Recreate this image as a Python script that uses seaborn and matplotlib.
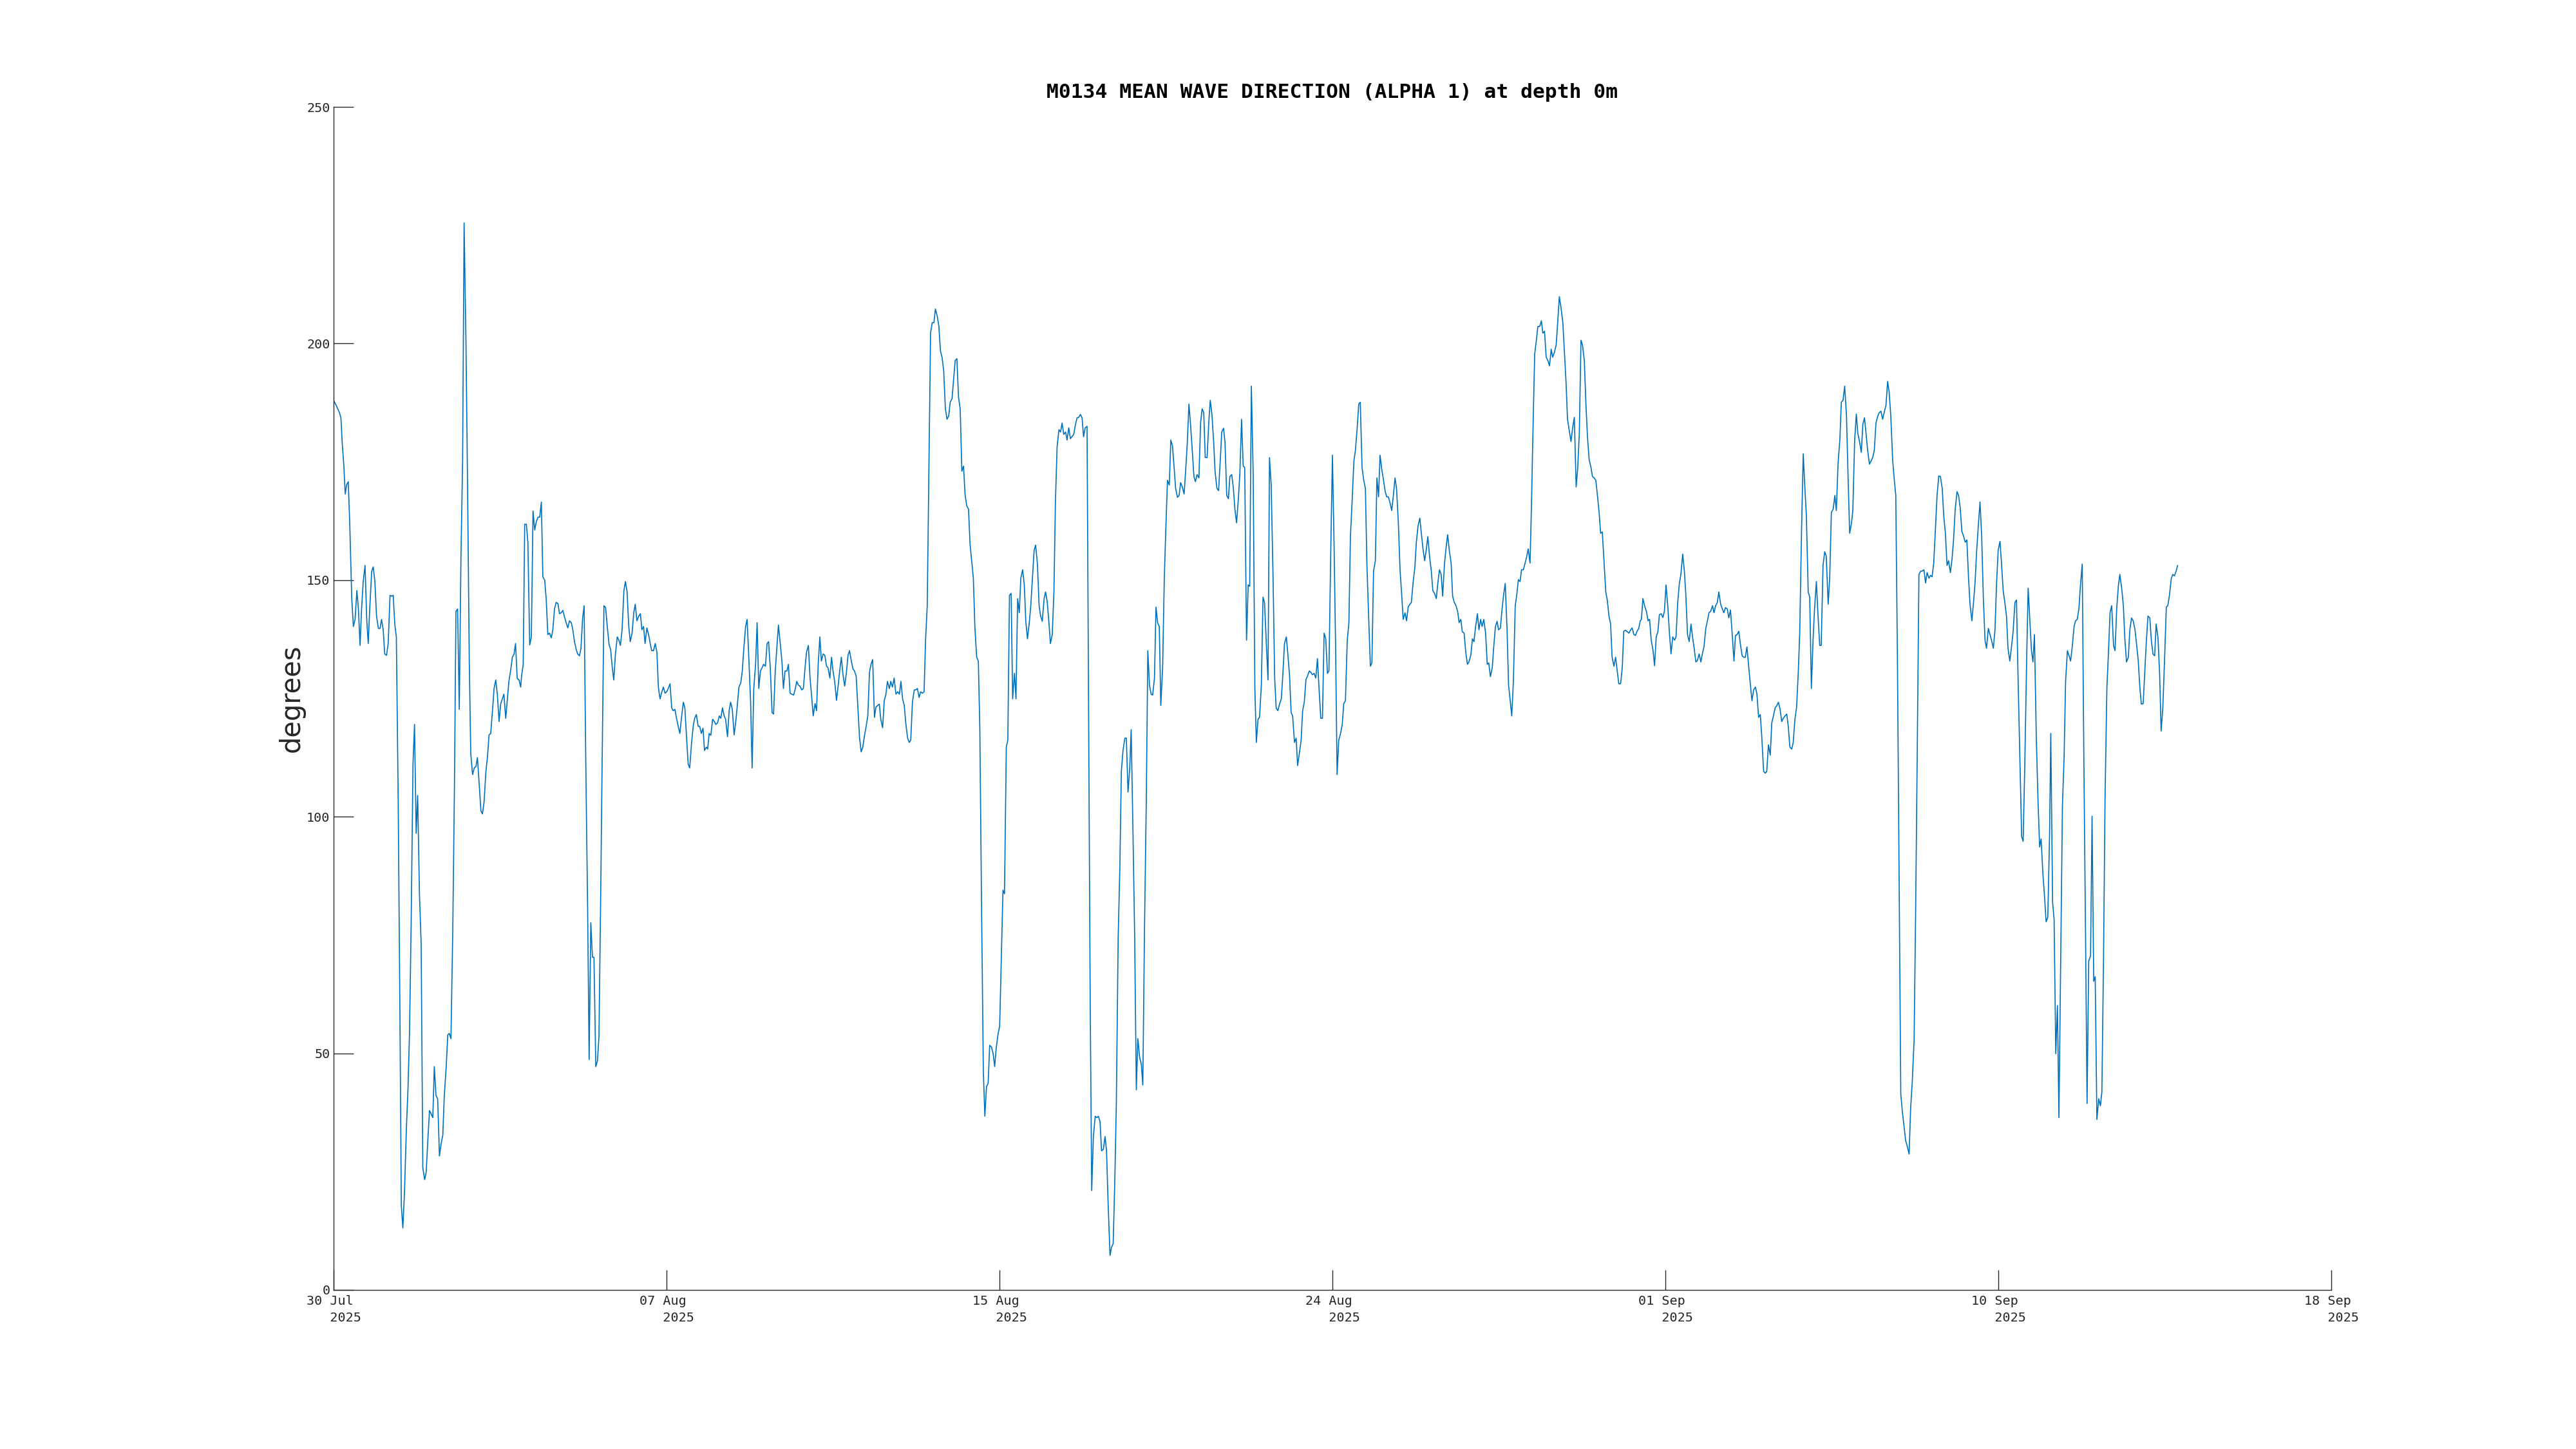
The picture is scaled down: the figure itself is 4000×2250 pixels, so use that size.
import datetime as dt
import numpy as np
import pandas as pd
import matplotlib
matplotlib.use("Agg")
import matplotlib.pyplot as plt
import matplotlib.dates as mdates
import seaborn as sns

# ---------------- data (hours since start, degrees) ----------------
start_time = "2025-07-30 00:00"
span_days = 50

seg1 = [(0, 188.0), (1.6, 186.9), (3.5, 185.4), (4.4, 184.3), (5.2, 178.9), (6.1, 174.5), (7.0, 168.2), (7.8, 170.1),
        (8.8, 170.8), (9.7, 162.1), (10.9, 146.1), (11.9, 140.2), (12.9, 141.7), (14.0, 147.8), (14.9, 143.9),
        (15.9, 136.2), (16.8, 143.9), (17.8, 149.7), (18.9, 153.1), (19.9, 141.7), (20.8, 136.6), (21.8, 144.6),
        (22.9, 151.9), (23.8, 152.8), (24.8, 149.7), (25.8, 142.4), (26.9, 139.8), (27.9, 139.8), (28.8, 141.7),
        (29.8, 139.5), (30.7, 134.4), (31.8, 134.1), (32.8, 136.6), (33.9, 146.8), (34.9, 146.6), (35.8, 146.8),
        (36.8, 140.5), (37.7, 138.0), (38.8, 103.8), (39.8, 60.1), (40.7, 17.8), (41.6, 13.1), (42.6, 20.7),
        (43.7, 33.8), (44.7, 42.6), (45.6, 54.2), (46.6, 77.6), (47.7, 111.1), (48.6, 119.5), (49.6, 96.5),
        (50.5, 104.5), (51.6, 83.4), (52.6, 73.2), (53.6, 25.8), (54.7, 23.3), (55.6, 24.8), (56.6, 31.6),
        (57.6, 37.9), (58.5, 37.3), (59.6, 36.4), (60.5, 47.2), (61.5, 41.1), (62.5, 40.4), (63.6, 28.3),
        (64.6, 30.9), (65.6, 32.7), (66.5, 41.1), (67.6, 46.9), (68.6, 53.9), (69.5, 54.2), (70.5, 53.1),
        (71.6, 76.1), (72.6, 106.7), (73.5, 143.4), (74.5, 143.9), (75.5, 122.7), (76.5, 154.8), (77.5, 175.2),
        (78.4, 225.5), (79.5, 200.7), (80.5, 169.4), (81.5, 132.9), (82.4, 113.3), (83.5, 108.9), (84.5, 110.3),
        (85.5, 110.6), (86.4, 112.5), (87.5, 106.7), (88.5, 101.2), (89.4, 100.6), (90.4, 103.1), (91.5, 109.6),
        (92.4, 112.5), (93.4, 117.3), (94.4, 117.6), (95.5, 122.7), (96.4, 127.1), (97.4, 128.9), (98.4, 125.7),
        (99.4, 120.1), (100.4, 123.9), (102.3, 125.9), (103.4, 120.8), (104.4, 124.9), (105.3, 128.6),
        (106.3, 130.8), (107.4, 133.7), (108.4, 134.4), (109.3, 136.6), (110.3, 129.2), (111.4, 128.9),
        (112.4, 127.4)]

seg2 = [(112.9, 129.7), (113.9, 132.2), (114.8, 161.8), (115.8, 161.8), (116.7, 158.0), (117.8, 136.3),
        (118.8, 138.0), (119.8, 164.6), (120.8, 160.6), (121.8, 162.4), (122.8, 163.3), (123.8, 163.3),
        (124.8, 166.5), (125.7, 150.7), (126.8, 150.0), (127.7, 146.1), (128.7, 138.5), (129.7, 138.8),
        (130.8, 137.8), (131.7, 139.5), (132.7, 143.9), (133.7, 145.3), (134.8, 145.0), (135.7, 142.9),
        (136.7, 143.1), (137.7, 143.6), (138.8, 142.1), (139.7, 141.0), (140.7, 139.9), (141.7, 141.4),
        (142.8, 141.0), (143.7, 139.5), (144.7, 137.0), (145.7, 135.4), (146.6, 134.4), (147.7, 134.0),
        (148.6, 135.6), (149.6, 142.0), (150.5, 144.6), (151.5, 111.1), (152.6, 80.5), (153.5, 48.7),
        (154.5, 77.6), (155.5, 70.3), (156.4, 70.3), (157.5, 47.2), (158.5, 48.4), (159.4, 53.5), (160.4, 81.9),
        (161.3, 111.1), (162.4, 144.6), (163.4, 144.2), (164.4, 140.2), (165.5, 136.3), (166.4, 135.4),
        (167.4, 131.5), (168.3, 128.9), (169.3, 134.4), (170.4, 138.0), (171.4, 137.3), (172.3, 136.2),
        (173.3, 139.5), (174.4, 147.8), (175.3, 149.7), (176.3, 147.5), (177.3, 140.2), (178.2, 137.0),
        (179.3, 138.8), (180.3, 143.1), (181.2, 144.9), (182.2, 141.4), (183.3, 142.4), (184.3, 142.9),
        (185.2, 139.5), (186.2, 140.2), (187.1, 136.6), (188.2, 139.9), (189.2, 138.5), (190.2, 136.6),
        (191.1, 135.1), (192.2, 135.1), (193.2, 136.6), (194.2, 134.8), (195.1, 127.4), (196.1, 124.9),
        (197.2, 126.4), (198.1, 127.4), (199.1, 126.1), (200.1, 126.4), (201.0, 127.1), (202.1, 128.1),
        (203.1, 123.0), (204.0, 122.4), (205.0, 122.7), (206.1, 120.6), (207.0, 119.1), (208.0, 117.6),
        (209.0, 121.0), (210.1, 124.2), (211.0, 123.0), (212.0, 116.9), (213.0, 111.1), (213.9, 110.3),
        (215.0, 115.5), (216.0, 119.1), (216.9, 120.8), (217.9, 121.6), (219.0, 119.1), (219.9, 119.1),
        (220.9, 117.6), (221.9, 118.7), (222.8, 114.0), (223.9, 114.7)]

seg3 = [(224.7, 114.3), (225.6, 117.6), (226.6, 117.2), (227.7, 120.6), (228.7, 120.1), (229.6, 119.5),
        (230.6, 119.8), (231.7, 121.3), (232.6, 120.8), (233.6, 123.0), (234.6, 121.3), (235.5, 120.6),
        (236.6, 116.9), (237.6, 122.4), (238.5, 124.2), (239.5, 122.7), (240.6, 117.3), (241.5, 119.8),
        (242.5, 123.5), (243.5, 127.4), (244.6, 128.3), (245.5, 130.8), (246.5, 135.9), (247.5, 140.2),
        (248.4, 141.7), (249.5, 132.9), (250.5, 124.2), (251.4, 110.3), (252.4, 127.1), (253.5, 132.2),
        (254.4, 141.0), (255.4, 127.1), (256.4, 130.8), (257.4, 131.5), (258.3, 132.2), (259.4, 131.8),
        (260.4, 136.6), (261.3, 137.0), (262.3, 131.5), (263.4, 122.0), (264.3, 121.7), (265.3, 130.8),
        (266.3, 135.9), (267.2, 140.5), (268.3, 136.6), (269.3, 132.9), (270.2, 127.1), (271.2, 130.8),
        (272.3, 130.8), (273.2, 132.2), (274.2, 126.1), (275.2, 125.9), (276.3, 125.7), (277.2, 126.8),
        (278.2, 128.6), (279.2, 127.8), (280.1, 127.6), (281.2, 126.8), (282.2, 127.1), (283.2, 131.5),
        (284.1, 134.8), (285.2, 136.2), (286.2, 129.3), (287.1, 125.7), (288.1, 121.3), (289.2, 123.9),
        (290.1, 122.4), (291.1, 132.2), (292.1, 138.0), (293.0, 132.9), (294.1, 134.4), (295.1, 134.1),
        (296.1, 131.8), (297.0, 131.5), (298.1, 129.3), (299.1, 133.7), (300.0, 130.8), (301.0, 128.6),
        (302.1, 124.6), (303.0, 127.4), (304.0, 130.8), (305.0, 133.7), (305.9, 130.3), (307.0, 127.6),
        (308.0, 130.3), (309.0, 134.1), (309.9, 135.1), (311.0, 132.9), (312.0, 131.2), (312.9, 130.8),
        (313.9, 129.7), (315.0, 122.7), (315.9, 116.9), (316.9, 113.7), (317.9, 114.7), (318.8, 116.9),
        (319.9, 119.1), (320.9, 121.3), (321.9, 130.5), (322.8, 132.2), (323.8, 133.2), (324.9, 121.0),
        (325.8, 123.2), (326.8, 123.5), (327.8, 123.8), (328.7, 120.6), (329.8, 118.8), (330.8, 124.6),
        (331.7, 125.7), (332.7, 128.6), (333.8, 127.1), (334.7, 128.6), (335.7, 127.4), (336.7, 129.3)]

seg4 = [(337.8, 125.9), (338.8, 126.4), (339.9, 125.9), (340.8, 128.6), (341.8, 124.9), (342.8, 123.5),
        (343.7, 119.8), (344.8, 116.6), (345.8, 115.7), (346.7, 116.2), (347.7, 124.2), (348.8, 126.8),
        (349.7, 126.8), (350.7, 127.1), (351.7, 125.2), (352.6, 126.4), (353.7, 126.1), (354.7, 126.4),
        (355.6, 137.3), (356.6, 144.6), (357.7, 176.7), (358.6, 202.2), (359.6, 204.4), (360.6, 204.4),
        (361.5, 207.3), (362.6, 205.8), (363.6, 203.6), (364.5, 198.5), (365.5, 197.1), (366.5, 194.2),
        (367.5, 186.2), (368.5, 184.0), (369.5, 184.7), (370.4, 187.6), (371.5, 188.3), (372.5, 192.7),
        (373.4, 196.4), (374.4, 196.8), (375.4, 188.6), (376.4, 186.2), (377.4, 173.0), (378.4, 174.1),
        (379.3, 168.2), (380.3, 165.7), (381.4, 165.0), (382.3, 157.7), (383.3, 154.1), (384.3, 150.4),
        (385.2, 140.2), (386.3, 133.7), (387.3, 132.9), (388.2, 118.4), (389.2, 81.9), (390.3, 46.2),
        (391.2, 36.7), (392.2, 42.9), (393.2, 43.7), (394.1, 51.7), (395.2, 51.3), (396.2, 49.9), (397.1, 47.2),
        (398.1, 51.3), (399.2, 54.2), (400.1, 55.7), (401.1, 70.3), (402.1, 84.5), (403.0, 83.7),
        (404.1, 114.7), (405.0, 116.2), (406.0, 146.8), (407.0, 147.2), (407.9, 124.9), (409.0, 130.3),
        (409.9, 124.9), (410.9, 146.1), (411.9, 143.1), (412.8, 150.4), (413.9, 152.2), (414.9, 149.0),
        (415.8, 141.3), (416.8, 137.6), (417.9, 141.0), (418.8, 144.6), (419.8, 150.4), (420.8, 156.3),
        (421.7, 157.4), (422.8, 153.4), (423.8, 144.6), (424.7, 142.4), (425.7, 141.3), (426.8, 146.1),
        (427.7, 147.5), (428.7, 145.3), (429.7, 141.0), (430.6, 136.6), (431.7, 138.5), (432.7, 147.5),
        (433.6, 166.5), (434.6, 178.1), (435.7, 181.8), (436.7, 181.3), (437.6, 183.2), (438.6, 180.8),
        (439.7, 181.3), (440.6, 179.6), (441.6, 182.2), (442.6, 179.9), (443.5, 180.3), (444.6, 180.8),
        (445.6, 182.8), (446.6, 184.3), (447.6, 184.4), (448.6, 185.0)]

seg5 = [(449.6, 184.3), (450.5, 180.3), (451.5, 182.2), (452.6, 182.5), (453.5, 125.7), (454.5, 60.1),
        (455.4, 21.0), (456.4, 32.4), (457.5, 36.7), (458.5, 36.4), (459.4, 36.7), (460.4, 35.6), (461.3, 29.4),
        (462.4, 29.7), (463.4, 32.4), (464.3, 29.4), (465.3, 17.8), (466.4, 7.3), (467.3, 9.0), (468.3, 9.8),
        (469.3, 23.6), (470.2, 39.7), (471.3, 74.6), (472.3, 89.2), (473.2, 109.6), (474.2, 114.0),
        (475.3, 116.6), (476.2, 116.6), (477.2, 105.2), (478.2, 109.9), (479.1, 118.4), (480.2, 96.5),
        (481.2, 74.6), (482.2, 42.3), (483.1, 53.1), (484.2, 49.1), (485.2, 47.7), (486.1, 43.3), (487.1, 76.1),
        (488.2, 103.8), (489.1, 135.1), (490.1, 127.8), (491.1, 125.9), (492.0, 125.7), (493.1, 129.3),
        (494.0, 144.3), (495.0, 141.0), (496.0, 140.2), (496.9, 123.5), (498.0, 131.5), (499.0, 150.4),
        (499.9, 160.6), (500.9, 171.1), (502.0, 170.1), (502.9, 179.6), (503.9, 178.4), (504.9, 173.8),
        (505.8, 169.4), (506.9, 167.5), (507.9, 167.9), (508.8, 170.6), (509.8, 169.7), (510.9, 168.2),
        (511.8, 173.0), (512.8, 178.9), (513.8, 187.2), (514.7, 183.2), (515.8, 177.4), (516.8, 171.9),
        (517.7, 170.8), (518.7, 172.3), (519.8, 171.6), (520.8, 183.2), (521.7, 186.2), (522.7, 185.4),
        (523.6, 175.9), (524.7, 175.9), (525.7, 183.2), (526.6, 188.0), (527.6, 185.1), (528.7, 178.9),
        (529.5, 173.0), (530.6, 169.4), (531.6, 168.9), (532.5, 174.5), (533.5, 181.3), (534.6, 182.1),
        (535.5, 178.9), (536.5, 167.9), (537.5, 167.2), (538.4, 171.9), (539.5, 172.3), (540.5, 169.4),
        (541.4, 165.0), (542.4, 162.1), (543.5, 167.2), (544.4, 172.6), (545.4, 184.0), (546.4, 174.1),
        (547.3, 173.8), (548.4, 137.3), (549.4, 149.0), (550.3, 148.7), (551.3, 191.0), (552.4, 172.3),
        (553.4, 127.1), (554.3, 115.7), (555.3, 120.6), (556.2, 121.0), (557.3, 127.8), (558.3, 146.4),
        (559.2, 145.3), (560.2, 137.3)]

seg6 = [(561.3, 128.9), (562.2, 175.9), (563.2, 170.1), (564.3, 151.2), (565.3, 129.3), (566.2, 123.0),
        (567.2, 122.4), (568.3, 123.9), (569.3, 124.9), (570.2, 130.0), (571.2, 136.6), (572.3, 138.0),
        (573.2, 134.4), (574.2, 130.0), (575.2, 122.0), (576.1, 121.3), (577.2, 115.7), (578.2, 116.6),
        (579.1, 110.8), (580.1, 113.3), (581.2, 116.2), (582.1, 122.4), (583.1, 124.2), (584.1, 129.0),
        (585.0, 129.7), (586.1, 130.8), (587.1, 130.5), (588.0, 130.0), (589.0, 130.3), (590.0, 129.3),
        (591.0, 133.4), (592.0, 126.8), (593.0, 120.8), (594.0, 120.8), (595.0, 138.8), (596.0, 137.6),
        (597.0, 130.3), (597.9, 130.8), (598.9, 154.1), (600.0, 176.4), (600.9, 159.2), (601.9, 135.9),
        (602.8, 108.9), (603.8, 116.2), (604.9, 117.6), (605.9, 119.5), (606.8, 123.9), (607.8, 124.5),
        (608.9, 137.3), (609.9, 141.0), (610.8, 159.2), (611.8, 166.5), (612.9, 175.2), (613.8, 177.4),
        (614.8, 181.8), (615.8, 187.2), (616.7, 187.6), (617.8, 173.8), (618.8, 171.1), (619.8, 169.4),
        (620.7, 153.4), (621.8, 141.7), (622.8, 131.8), (623.7, 132.5), (624.7, 151.9), (625.8, 154.1),
        (626.7, 171.6), (627.7, 167.6), (628.6, 176.4), (629.6, 173.5), (630.7, 171.1), (631.7, 168.7),
        (632.6, 167.6), (633.6, 167.6), (634.7, 166.2), (635.6, 164.7), (636.6, 167.9), (637.6, 171.6),
        (638.5, 169.4), (639.6, 162.1), (640.6, 152.2), (641.5, 147.5), (642.5, 141.7), (643.6, 143.1),
        (644.5, 141.4), (645.5, 144.3), (646.5, 144.9), (647.4, 145.3), (648.5, 149.7), (649.5, 152.6),
        (650.4, 158.0), (651.4, 161.4), (652.5, 163.1), (653.4, 159.9), (654.4, 156.6), (655.4, 154.1),
        (656.3, 156.3), (657.3, 159.2), (658.4, 154.8), (659.4, 151.9), (660.3, 147.8), (661.3, 147.2),
        (662.4, 146.1), (663.3, 149.3), (664.3, 152.2), (665.3, 151.2), (666.2, 146.6), (667.3, 153.4),
        (668.3, 157.0), (669.2, 159.6), (670.2, 156.3), (671.3, 153.6), (672.2, 146.6), (673.2, 145.3)]

seg7 = [(674.2, 144.6), (675.2, 143.4), (676.1, 141.0), (677.1, 141.7), (678.0, 139.1), (679.1, 138.8),
        (680.1, 134.7), (681.1, 132.2), (682.0, 132.7), (683.1, 134.1), (684.1, 137.6), (685.0, 137.0),
        (686.0, 140.2), (687.1, 142.9), (688.0, 139.5), (689.0, 141.7), (689.9, 140.2), (690.9, 141.7),
        (692.0, 138.8), (693.0, 132.2), (693.9, 132.5), (694.9, 129.6), (696.0, 131.5), (696.9, 135.9),
        (697.9, 140.2), (698.9, 141.3), (699.8, 139.5), (700.9, 139.9), (701.9, 143.9), (702.8, 146.8),
        (703.8, 149.3), (704.9, 139.5), (705.8, 127.8), (706.8, 124.5), (707.7, 121.3), (708.7, 128.6),
        (709.8, 144.6), (710.7, 146.8), (711.7, 150.1), (712.7, 149.7), (713.6, 152.2), (714.7, 152.2),
        (715.7, 153.6), (716.6, 154.8), (717.6, 156.6), (718.7, 153.6), (719.6, 166.5), (720.6, 184.0),
        (721.5, 197.8), (722.5, 200.7), (723.4, 203.6), (724.5, 203.6), (725.5, 204.8), (726.4, 202.2),
        (727.4, 202.6), (728.4, 197.1), (729.4, 196.4), (730.4, 195.3), (731.4, 198.8), (732.3, 197.1),
        (733.3, 198.1), (734.4, 199.7), (735.3, 204.4), (736.3, 209.9), (737.3, 207.6), (738.4, 204.4),
        (739.3, 198.5), (740.3, 192.0), (741.2, 184.0), (742.2, 181.8), (743.3, 179.3), (744.3, 182.2),
        (745.3, 184.4), (746.4, 169.7), (747.3, 173.5), (748.3, 181.0), (749.3, 200.7), (750.2, 199.7),
        (751.3, 196.4), (752.3, 186.9), (753.2, 180.3), (754.2, 175.5), (755.3, 173.8), (756.2, 171.9),
        (757.2, 171.6), (758.2, 171.1), (759.1, 168.2), (760.2, 164.3), (761.1, 159.9), (762.1, 160.2),
        (763.1, 154.1), (764.2, 147.5), (765.1, 145.8), (766.1, 142.4), (767.1, 140.7), (768.0, 133.7),
        (769.1, 131.8), (770.1, 133.7), (771.1, 130.8), (772.0, 128.1), (773.1, 128.1), (774.1, 131.5),
        (775.0, 139.2), (776.0, 139.4), (777.1, 139.1), (778.1, 138.8), (779.0, 139.4), (780.0, 139.9),
        (781.1, 138.5), (782.0, 138.3), (783.0, 139.2), (784.0, 139.8), (784.9, 141.4)]

seg8 = [(785.6, 141.7), (786.5, 146.1), (787.5, 144.6), (788.6, 143.4), (789.6, 141.4), (790.5, 141.7),
        (791.5, 137.3), (792.6, 135.1), (793.5, 131.9), (794.5, 138.0), (795.5, 139.1), (796.4, 142.7),
        (797.5, 142.9), (798.5, 142.1), (799.4, 143.4), (800.4, 149.0), (801.5, 144.2), (802.5, 138.5),
        (803.4, 134.4), (804.4, 138.0), (805.5, 137.3), (806.4, 138.0), (807.4, 145.3), (808.4, 149.3),
        (809.3, 151.2), (810.4, 155.5), (811.4, 151.9), (812.3, 146.8), (813.3, 138.5), (814.3, 137.0),
        (815.4, 140.7), (816.3, 138.0), (817.3, 135.6), (818.3, 132.7), (819.2, 133.0), (820.3, 134.4),
        (821.3, 132.7), (822.2, 134.4), (823.2, 135.9), (824.3, 139.9), (825.2, 141.3), (826.2, 143.1),
        (827.2, 143.4), (828.3, 144.6), (829.2, 143.1), (830.2, 144.6), (831.2, 145.3), (832.1, 147.5),
        (833.2, 144.9), (834.2, 143.9), (835.1, 143.1), (836.1, 144.2), (837.2, 143.9), (838.1, 142.0),
        (839.1, 143.7), (840.1, 138.8), (841.2, 132.9), (842.1, 138.3), (843.1, 138.5), (844.1, 139.2),
        (845.0, 136.6), (846.1, 134.0), (847.1, 133.7), (848.0, 133.7), (849.0, 135.9), (850.1, 131.5),
        (851.0, 128.1), (852.0, 124.5), (853.0, 126.8), (854.1, 127.4), (855.0, 125.9), (856.0, 121.0),
        (857.0, 121.6), (857.9, 116.9), (859.0, 109.6), (860.0, 109.2), (860.9, 109.6), (861.9, 115.2),
        (863.0, 113.0), (863.9, 119.8), (864.9, 121.3), (865.9, 123.0), (867.0, 123.5), (867.9, 124.2),
        (868.9, 122.7), (869.9, 120.1), (870.8, 120.8), (871.9, 121.3), (872.9, 121.7), (873.8, 119.1),
        (874.8, 114.7), (875.9, 114.3), (876.8, 115.7), (877.8, 120.6), (878.8, 123.0), (879.8, 130.3),
        (880.7, 138.8), (881.8, 160.6), (882.8, 176.7), (883.7, 170.1), (884.7, 163.6), (885.8, 147.5),
        (886.7, 146.4), (887.7, 127.1), (888.7, 137.3), (889.6, 143.9), (890.7, 149.7), (891.7, 142.4),
        (892.7, 136.2), (893.6, 136.2), (894.7, 153.1), (895.7, 156.0), (896.6, 155.1)]

seg9 = [(897.8, 144.9), (898.7, 150.4), (899.7, 164.3), (900.8, 165.0), (901.8, 167.9), (902.7, 164.7),
        (903.7, 174.5), (904.8, 179.6), (905.7, 187.6), (906.7, 188.0), (907.7, 191.0), (908.8, 184.7),
        (909.7, 172.3), (910.7, 159.9), (911.7, 161.8), (912.6, 164.7), (913.7, 179.6), (914.7, 185.1),
        (915.6, 181.0), (916.6, 179.3), (917.7, 177.0), (918.6, 182.9), (919.6, 184.3), (920.6, 180.8),
        (921.5, 177.4), (922.6, 174.5), (923.6, 175.2), (924.5, 175.9), (925.5, 177.4), (926.5, 183.2),
        (927.6, 184.7), (928.5, 185.4), (929.5, 185.7), (930.5, 184.0), (931.4, 185.4), (932.5, 186.9),
        (933.5, 192.0), (934.4, 189.8), (935.4, 184.7), (936.5, 175.5), (937.4, 171.6), (938.4, 167.9),
        (939.4, 132.9), (940.5, 81.9), (941.4, 41.4), (942.4, 37.5), (943.4, 34.5), (944.3, 31.6), (945.4, 30.2),
        (946.4, 28.7), (947.3, 38.2), (948.3, 44.0), (949.4, 52.8), (950.3, 79.0), (951.3, 114.0), (952.3, 151.2),
        (953.4, 151.9), (954.3, 151.9), (955.3, 152.2), (956.3, 149.4), (957.2, 151.6), (958.3, 150.4),
        (959.3, 151.0), (960.2, 150.7), (961.2, 153.6), (962.3, 161.4), (963.2, 167.9), (964.2, 172.0),
        (965.2, 171.9), (966.3, 169.4), (967.2, 163.6), (968.2, 159.9), (969.2, 153.1), (970.1, 154.1),
        (971.2, 151.6), (972.2, 154.5), (973.1, 158.5), (974.1, 165.0), (975.2, 168.7), (976.1, 167.9),
        (977.1, 165.3), (978.1, 160.3), (979.2, 159.2), (980.1, 158.0), (981.1, 158.5), (982.1, 150.4),
        (983.0, 144.9), (984.1, 141.4), (985.1, 145.3), (986.0, 149.3), (987.0, 156.3), (988.1, 162.1),
        (989.0, 166.5), (990.0, 159.2), (991.0, 146.1), (992.0, 137.3), (992.9, 135.6), (994.0, 139.8),
        (995.0, 138.5), (995.9, 137.3), (997.0, 135.6), (998.0, 139.5), (998.9, 149.0), (999.9, 156.3),
        (1001.0, 158.2), (1001.8, 154.1), (1002.9, 147.8), (1003.9, 145.3), (1004.9, 142.4), (1005.8, 135.6),
        (1006.9, 132.9), (1007.9, 135.9), (1008.8, 138.8)]

seg10 = [(1010.0, 145.3), (1010.9, 145.8), (1011.9, 128.6), (1013.0, 111.1), (1014.0, 95.8), (1014.9, 94.8),
         (1015.9, 111.1), (1017.0, 132.9), (1017.9, 148.3), (1018.9, 141.7), (1019.9, 135.1), (1020.8, 132.7),
         (1021.7, 138.5), (1022.8, 116.9), (1023.8, 103.8), (1024.8, 93.6), (1025.7, 95.3), (1026.8, 87.8),
         (1027.7, 83.4), (1028.7, 77.8), (1029.7, 78.7), (1030.8, 96.5), (1031.5, 117.6), (1032.6, 81.9),
         (1033.5, 78.3), (1034.5, 49.9), (1035.5, 60.1), (1036.4, 36.4), (1037.5, 70.3), (1038.5, 102.3),
         (1039.5, 112.5), (1040.4, 128.6), (1041.5, 135.1), (1042.5, 134.0), (1043.4, 132.9), (1044.4, 135.9),
         (1045.5, 140.2), (1046.4, 141.4), (1047.4, 141.7), (1048.4, 143.9), (1049.3, 148.8), (1050.4, 153.4),
         (1051.4, 111.1), (1052.4, 74.6), (1053.3, 39.4), (1054.3, 69.5), (1055.4, 70.6), (1056.3, 100.1),
         (1057.3, 65.2), (1058.2, 66.2), (1059.2, 36.0), (1060.3, 40.4), (1061.3, 38.9), (1062.2, 41.8),
         (1063.2, 70.3), (1064.1, 103.8), (1065.2, 127.1), (1066.2, 135.1), (1067.1, 143.1), (1068.1, 144.6),
         (1069.2, 136.2), (1070.1, 135.1), (1071.1, 143.9), (1072.1, 148.8), (1073.0, 151.2), (1074.1, 148.3),
         (1075.1, 144.6), (1076.0, 137.6), (1077.0, 132.7), (1078.1, 133.7), (1079.0, 139.5), (1080.0, 142.0),
         (1081.0, 141.4), (1082.1, 139.5), (1083.0, 136.6), (1084.0, 133.2), (1085.0, 127.4), (1085.9, 123.8),
         (1087.0, 123.9), (1088.0, 130.8), (1088.9, 137.0), (1089.9, 142.4), (1091.0, 142.0), (1091.9, 137.3),
         (1092.9, 134.4), (1093.9, 134.0), (1094.8, 140.7), (1095.9, 137.8), (1096.9, 130.0), (1097.8, 118.1),
         (1098.8, 123.0), (1099.9, 133.7), (1100.9, 144.3), (1101.8, 144.6), (1102.8, 146.8), (1103.9, 150.4),
         (1104.8, 151.2), (1105.8, 150.9), (1106.8, 151.9), (1107.7, 153.1)]

tick_days = ["30 Jul", "07 Aug", "15 Aug", "24 Aug", "01 Sep", "10 Sep", "18 Sep"]
tick_year = "2025"
y_ticks = [0, 50, 100, 150, 200, 250]

title_text = "M0134 MEAN WAVE DIRECTION (ALPHA 1) at depth 0m"
y_label = "degrees"

# ---------------- build frame ----------------
segments = [seg1, seg2, seg3, seg4, seg5, seg6, seg7, seg8, seg9, seg10]
pairs = [p for s in segments for p in s]
hours = np.array([p[0] for p in pairs])
degrees = np.array([p[1] for p in pairs])
t0 = pd.Timestamp(start_time)
df = pd.DataFrame({"time": t0 + pd.to_timedelta(hours, unit="h"), "deg": degrees})

# ---------------- plot ----------------
sns.set_style("white")
plt.rcParams["font.family"] = ["DejaVu Sans Mono", "DejaVu Sans"]

axis_col = "#262626"
fig = plt.figure(figsize=(40, 22.5), dpi=100)
ax = fig.add_axes([0.1295, 0.1098, 0.7755, 0.8164])

sns.lineplot(data=df, x="time", y="deg", ax=ax, color="#0072BD", linewidth=1.2,
             estimator=None, sort=False, legend=False)

x0 = t0
x1 = t0 + pd.Timedelta(days=span_days)
ax.set_xlim(x0, x1)
ax.set_ylim(y_ticks[0], y_ticks[-1])

tick_pos = np.linspace(mdates.date2num(x0), mdates.date2num(x1), len(tick_days))
ax.set_xticks(tick_pos)
ax.set_xticklabels([f"{d}\n   {tick_year}" for d in tick_days], multialignment="left",
                   linespacing=1.45)
ax.set_yticks(y_ticks)
ax.set_yticklabels([str(v) for v in y_ticks])

for side in ("top", "right"):
    ax.spines[side].set_visible(False)
for side in ("left", "bottom"):
    ax.spines[side].set_color(axis_col)
    ax.spines[side].set_linewidth(1.0)

ax.tick_params(axis="both", which="major", direction="in", length=22, width=1.0,
               color=axis_col, labelcolor=axis_col, labelsize=14.5,
               bottom=True, left=True, top=False, right=False)
ax.tick_params(axis="x", pad=6)
ax.tick_params(axis="y", pad=4)

ax.set_xlabel("")
ax.set_ylabel(y_label, fontsize=30, color=axis_col, family=["DejaVu Sans"], labelpad=2)
ax.set_title(title_text, fontsize=22.5, fontweight="bold", color="black",
             family=["DejaVu Sans Mono"], pad=10)

ax.grid(False)
ax.set_facecolor("white")
fig.patch.set_facecolor("white")

fig.savefig("out.png", dpi=100, facecolor="white")
